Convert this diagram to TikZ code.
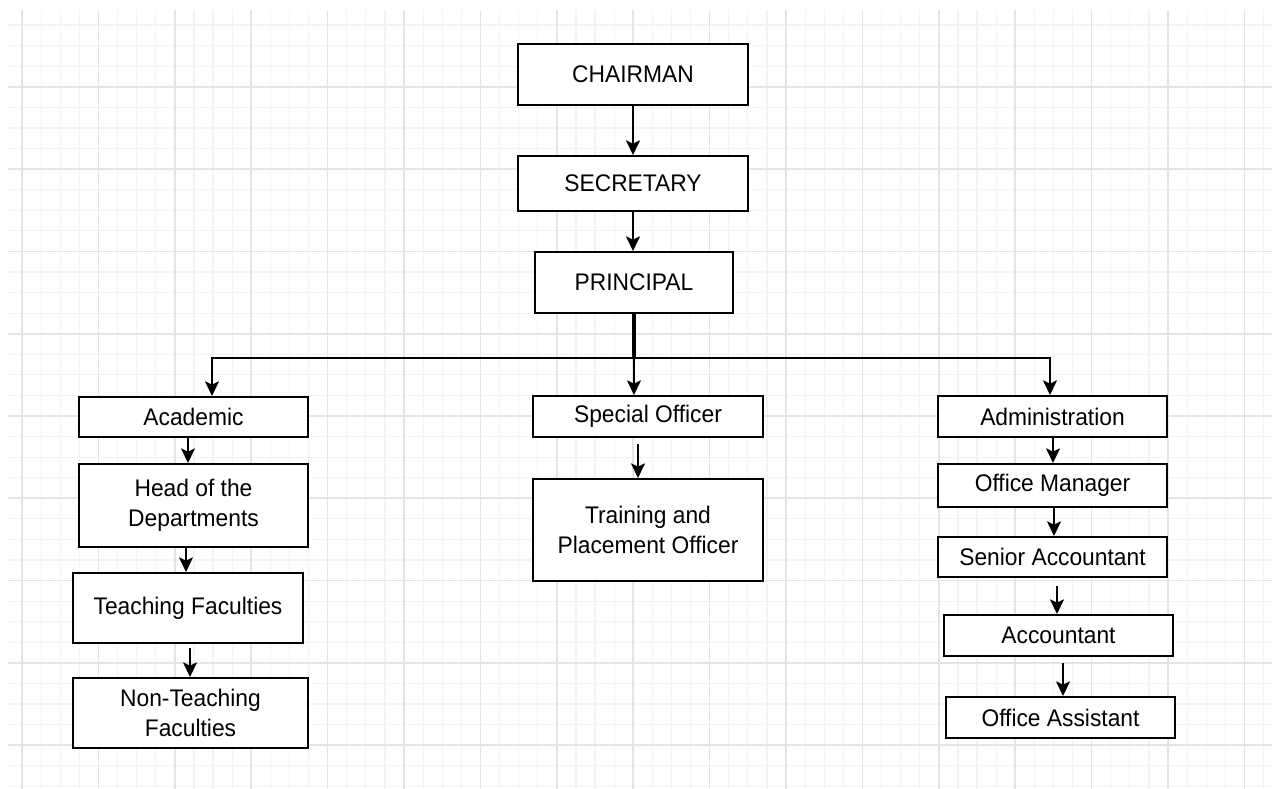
\documentclass[tikz,border=0pt]{standalone}
\usepackage{fontspec}
\newfontfamily\chartfont{Liberation Sans}[FakeStretch=0.95]
\usepackage{tikz}
\usetikzlibrary{arrows.meta,calc}
\definecolor{gridmajor}{RGB}{228,228,228}
\definecolor{gridminor}{RGB}{243,243,243}

\begin{document}
\begin{tikzpicture}[x=0.75pt,y=0.75pt,yscale=-1,xscale=1,
        orgbox/.style={draw, line width=1.5pt, fill=white, inner sep=0pt, align=center,
            font=\chartfont\fontsize{18}{22.5}\selectfont},
        orgarrow/.style={line width=1.3pt, -{Stealth[length=11pt,width=10.5pt,inset=2.5pt]}}]
        %set diagram size: 1272 x 789
        \useasboundingbox [fill=white] (0,0) rectangle (1272,789);
        %Grid: minor lines
        \foreach \i in {0,...,65} \draw [gridminor, line width=0.9pt] ({22+19.1*\i},10) -- ({22+19.1*\i},789);
        \foreach \j in {1,...,38} \draw [gridminor, line width=0.9pt] (8,{4.5+20.575*\j}) -- (1272,{4.5+20.575*\j});
        %Grid: major lines
        \foreach \i in {0,...,16} \draw [gridmajor, line width=1.3pt] ({22+76.4*\i},10) -- ({22+76.4*\i},789);
        \foreach \j in {1,...,9} \draw [gridmajor, line width=1.3pt] (8,{4.5+82.3*\j}) -- (1272,{4.5+82.3*\j});

        %Shape: Rectangle [top of the chart]
        \node [orgbox, minimum width=172.5pt, minimum height=45.75pt] (chairman) at (633,74.5) {CHAIRMAN};
        \node [orgbox, minimum width=172.5pt, minimum height=41.25pt] (secretary) at (633,183.5) {SECRETARY};
        \node [orgbox, minimum width=148.5pt, minimum height=45.75pt] (principal) at (634,282.5) {PRINCIPAL};
        %Shape: Rectangle [academic branch]
        \node [orgbox, minimum width=171.75pt, minimum height=30pt] (academic) at (193.5,417) {Academic};
        \node [orgbox, minimum width=171.75pt, minimum height=62.25pt] (hod) at (193.5,505.5) {Head of the\\Departments};
        \node [orgbox, minimum width=172.5pt, minimum height=52.5pt] (teaching) at (188,608) {Teaching Faculties};
        \node [orgbox, minimum width=176.25pt, minimum height=52.5pt] (nonteaching) at (190.5,713) {Non-Teaching\\Faculties};
        %Shape: Rectangle [special officer branch]
        \node [orgbox, minimum width=172.5pt, minimum height=30.75pt] (special) at (648,416.5) {Special Officer};
        \node [orgbox, minimum width=172.5pt, minimum height=76.5pt] (training) at (648,530) {Training and\\Placement Officer};
        %Shape: Rectangle [administration branch]
        \node [orgbox, minimum width=171.75pt, minimum height=30.75pt] (admin) at (1052.5,416.5) {Administration};
        \node [orgbox, minimum width=171.75pt, minimum height=32.25pt] (officemgr) at (1052.5,485.5) {Office Manager};
        \node [orgbox, minimum width=171.75pt, minimum height=30pt] (senior) at (1052.5,557) {Senior Accountant};
        \node [orgbox, minimum width=171.75pt, minimum height=30.75pt] (accountant) at (1058.5,635.5) {Accountant};
        \node [orgbox, minimum width=171.75pt, minimum height=30.75pt] (assistant) at (1060.5,717.5) {Office Assistant};

        %Straight Lines [top chain]
        \draw [orgarrow] (chairman) -- (secretary);
        \draw [orgarrow] (secretary.south) -- (secretary.south |- principal.north);
        %Straight Lines [bus below principal]
        \coordinate (bus) at (634,358);
        \draw [line width=2.4pt] (principal.south) -- (bus);
        \draw [orgarrow] (bus) -| ($(academic.north)+(18.5,0)$);
        \draw [orgarrow] (bus) -| ($(admin.north)+(-2.5,0)$);
        \draw [orgarrow] (bus) -- ($(special.north)+(-14,0)$);
        %Straight Lines [academic branch]
        \draw [orgarrow] ($(academic.south)+(-5.5,0)$) -- ($(hod.north)+(-5.5,0)$);
        \draw [orgarrow] ($(hod.south)+(-7.5,0)$) -- ($(teaching.north)+(-2,0)$);
        \draw [orgarrow] ($(teaching.south)+(2,4)$) -- ($(nonteaching.north)+(-0.5,0)$);
        %Straight Lines [special officer branch]
        \draw [orgarrow] ($(special.south)+(-10,6)$) -- ($(training.north)+(-10,0)$);
        %Straight Lines [administration branch]
        \draw [orgarrow] ($(admin.south)+(0.5,0)$) -- ($(officemgr.north)+(0.5,0)$);
        \draw [orgarrow] ($(officemgr.south)+(1.5,0)$) -- ($(senior.north)+(1.5,0)$);
        \draw [orgarrow] ($(senior.south)+(4.5,8)$) -- ($(accountant.north)+(-1.5,0)$);
        \draw [orgarrow] ($(accountant.south)+(4.5,6)$) -- ($(assistant.north)+(2.5,0)$);
\end{tikzpicture}
\end{document}
